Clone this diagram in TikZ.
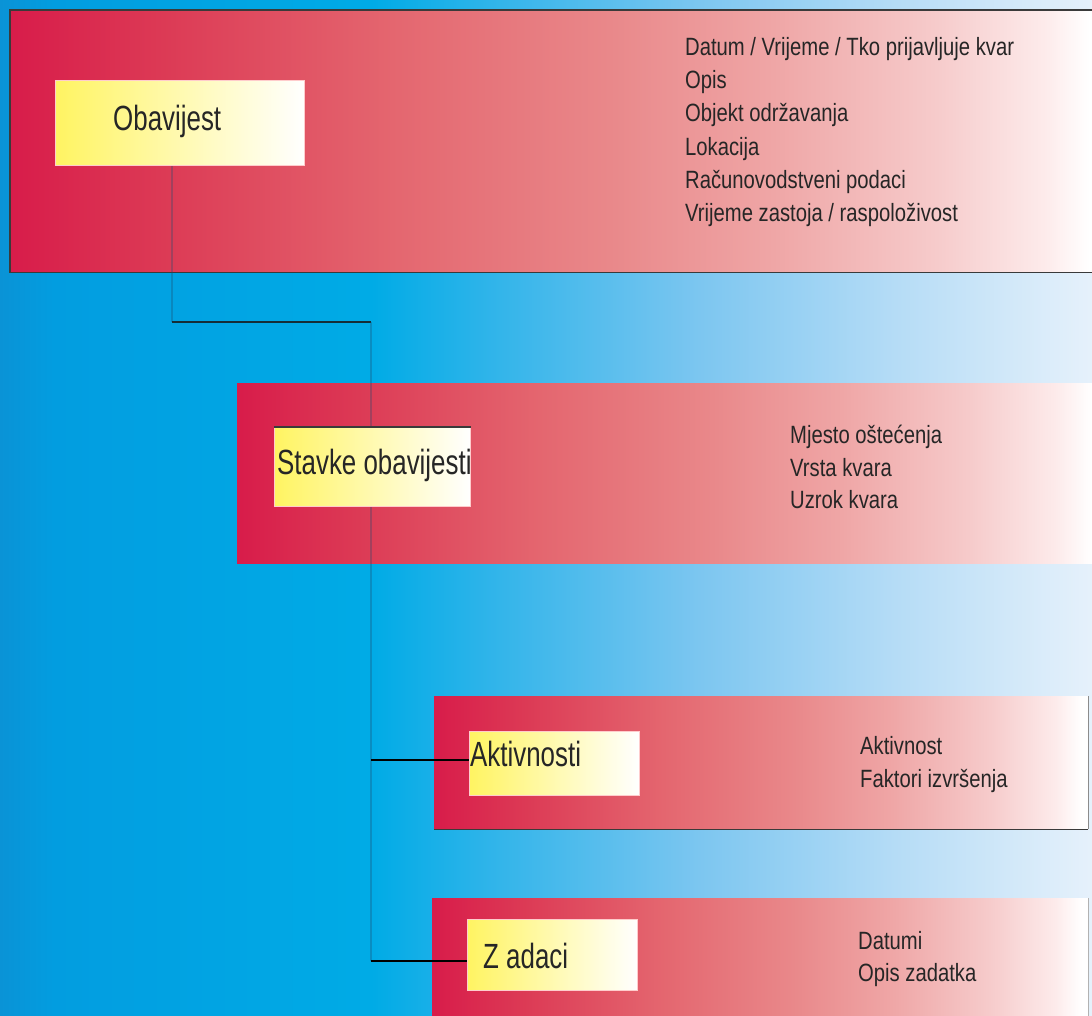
\documentclass[tikz,border=0pt]{standalone}
\usepackage{fontspec}
\setmainfont{Liberation Sans}
\newfontfamily\listf[FakeStretch=0.81]{Liberation Sans}
\newfontfamily\bigf[FakeStretch=0.74]{Liberation Sans}
\definecolor{bgA}{HTML}{0A93D6}
\definecolor{bgB}{HTML}{029DE0}
\definecolor{bgC}{HTML}{00ABE6}
\definecolor{bgD}{HTML}{34B5EA}
\definecolor{bgE}{HTML}{7CC6F0}
\definecolor{bgF}{HTML}{B5DCF6}
\definecolor{bgG}{HTML}{E6F1FB}
\definecolor{rdA}{HTML}{D81C4A}
\definecolor{rdB}{HTML}{DC3A55}
\definecolor{rdC}{HTML}{E4666F}
\definecolor{rdD}{HTML}{E9888A}
\definecolor{rdE}{HTML}{EFA6A6}
\definecolor{rdF}{HTML}{F6CBCB}
\definecolor{rdG}{HTML}{FDEBEB}
\definecolor{ylA}{HTML}{FFF462}
\definecolor{ylB}{HTML}{FFFAB8}
\definecolor{edgecol}{HTML}{3A3A3A}
\definecolor{linkcol}{HTML}{1E4A6E}
\pgfdeclarehorizontalshading{bgshade}{100bp}{color(0bp)=(bgA); color(25bp)=(bgA); color(27.5bp)=(bgB); color(42bp)=(bgC); color(48bp)=(bgD); color(57bp)=(bgE); color(66bp)=(bgF); color(75bp)=(bgG); color(100bp)=(bgG)}
\pgfdeclarehorizontalshading{redshade}{100bp}{color(0bp)=(rdA); color(25bp)=(rdA); color(32bp)=(rdB); color(42.5bp)=(rdC); color(52.5bp)=(rdD); color(60bp)=(rdE); color(67.5bp)=(rdF); color(72.5bp)=(rdG); color(74.5bp)=(white); color(100bp)=(white)}
\tikzset{
  redbox/.style={shading=redshade, draw=none, inner sep=0pt, anchor=north west},
  ylbox/.style={left color=ylA, middle color=ylB, right color=white, draw=white!80!red, line width=0.8pt, inner sep=0pt, anchor=north west},
  bigtext/.style={font=\bigf\fontsize{35}{40}\selectfont, inner sep=0pt, anchor=base west, text=black!85},
  listtext/.style={font=\listf\fontsize{25}{30}\selectfont, inner sep=0pt, anchor=base west, text=black!85},
  boxedge/.style={draw=edgecol, line width=1.3pt},
  faintlink/.style={draw=linkcol, draw opacity=0.3, line width=1.2pt},
  darklink/.style={draw=black!90, draw opacity=0.85, line width=1.2pt},
  branch/.style={draw=black, line width=1.1pt}
}
\begin{document}
\begin{tikzpicture}[x=1pt,y=-1pt]
\useasboundingbox (0,0) rectangle (1092,1016);
\clip (0,0) rectangle (1092,1016);
\shade[shading=bgshade] (0,0) rectangle (1092,1016);

% red panels
\node[redbox, minimum width=1090pt, minimum height=262pt] (b1) at (10,10) {};
\node[redbox, minimum width=863pt, minimum height=180pt] (b2) at (237,383) {};
\node[redbox, minimum width=654pt, minimum height=133pt] (b3) at (434,696) {};
\node[redbox, minimum width=656pt, minimum height=140pt] (b4) at (432,898) {};

% panel edges
\draw[boxedge] (b1.north east) -- (b1.north west) -- (b1.south west) -- (b1.south east);
\draw[boxedge] (b3.south west) -- (b3.south east);
\draw[draw=black!45, line width=1.2pt] (b3.south east) -- (b3.north east);
\draw[draw=black!30, line width=1.2pt] (b4.north east) -- (b4.south east);

% connector junctions
\coordinate (j1) at (172,322);
\coordinate (j2) at (371,322);
\coordinate (jA) at (371,760);
\coordinate (jZ) at (371,961);

% yellow title boxes
\node[ylbox, minimum width=249pt, minimum height=85pt] (y1) at (55,80) {};
\node[ylbox, minimum width=196pt, minimum height=79pt] (y2) at (274,427) {};
\node[ylbox, minimum width=170pt, minimum height=64pt] (y3) at (469,731) {};
\node[ylbox, minimum width=170pt, minimum height=71pt] (y4) at (467,919) {};

% connectors
\draw[faintlink] (y1.south -| j1) -- (j1);
\draw[darklink] (j1) -- (j2);
\draw[faintlink] (j2) -- (y2.north -| j2);
\draw[faintlink] (y2.south -| j2) -- (jZ);
\draw[branch] (jA) -- (y3.west |- jA);
\draw[branch] (jZ) -- (y4.west |- jZ);
\draw[draw=edgecol, line width=1.2pt] (y2.north west) -- (y2.north east);

% titles
\node[bigtext] (t1) at (113,131) {Obavijest};
\node[bigtext] (t2) at (277,474) {Stavke obavijesti};
\node[bigtext] (t3) at (470,766) {Aktivnosti};
\node[bigtext] (t4) at (483,968) {Z adaci};

% attribute lists
\node[listtext] (l11) at (685,56) {Datum / Vrijeme / Tko prijavljuje kvar};
\node[listtext] (l12) at (685,89) {Opis};
\node[listtext] (l13) at (685,122) {Objekt održavanja};
\node[listtext] (l14) at (685,156) {Lokacija};
\node[listtext] (l15) at (685,189) {Računovodstveni podaci};
\node[listtext] (l16) at (685,222) {Vrijeme zastoja / raspoloživost};

\node[listtext] (l21) at (790,443) {Mjesto oštećenja};
\node[listtext] (l22) at (790,476) {Vrsta kvara};
\node[listtext] (l23) at (790,508) {Uzrok kvara};

\node[listtext] (l31) at (860,754) {Aktivnost};
\node[listtext] (l32) at (860,787) {Faktori izvršenja};

\node[listtext] (l41) at (858,949) {Datumi};
\node[listtext] (l42) at (858,981) {Opis zadatka};
\end{tikzpicture}
\end{document}
